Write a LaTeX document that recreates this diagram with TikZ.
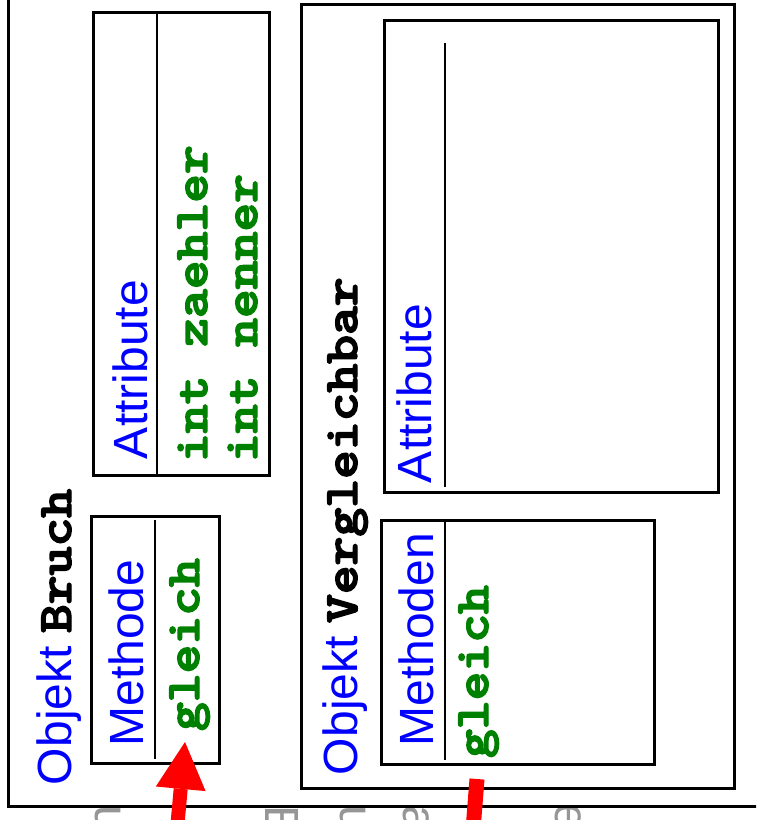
\documentclass[tikz,border=0pt]{standalone}
\usepackage{fontspec}
\usepackage{graphicx}
\setmainfont{Liberation Sans}
\usetikzlibrary{arrows.meta}
\definecolor{kwblue}{RGB}{0,0,255}
\definecolor{codegreen}{RGB}{0,128,0}
\definecolor{arrowred}{RGB}{255,0,0}
\definecolor{fadegrey}{RGB}{150,150,150}
% bold typewriter, widened to a Courier-like advance and given a heavier stroke
\newcommand\codetext[1]{\scalebox{1.143}[1]{\ttfamily\bfseries
  \special{pdf:literal direct 2 Tr 1.4 w}#1\special{pdf:literal direct 0 Tr}}}

\begin{document}
\begin{tikzpicture}[x=1pt,y=-1pt,
  box/.style={draw, line width=3pt, inner sep=0pt, outer sep=0pt, anchor=north west},
  divider/.style={line width=2pt},
  caption/.style={rotate=90, anchor=base west, inner sep=0pt, outer sep=0pt,
                  font=\fontsize{48}{52}\selectfont},
  heading/.style={caption, text=kwblue},
  code/.style={caption, text=codegreen},
  shade/.style={rotate=-90, anchor=base west, inner sep=0pt, outer sep=0pt,
                text=fadegrey, font=\fontsize{48}{52}\selectfont},
  pointer/.style={arrowred, line width=14pt,
                  -{Triangle[width=50pt,length=47pt,line width=0pt]}},
  redbar/.style={arrowred, line width=15pt}
]
\useasboundingbox (0,0) rectangle (756,820);
\clip (0,0) rectangle (756,820);

% text continuing below the frame
\begin{scope}
  \clip (0,806) rectangle (756,820);
  \node[shade] (s1) at (95,805) {u};
  \node[shade] (s2) at (265,805) {E};
  \node[shade] (s3) at (340,805) {u};
  \node[shade] (s4) at (403,805) {a};
  \node[shade] (s5) at (555,803) {e};
\end{scope}

% outer frame
\node[box, minimum width=780pt, minimum height=826pt] (frame) at (8,-20) {};

% object Bruch
\node[box, minimum width=176pt, minimum height=463pt] (bruchattr) at (93,12) {};
\draw[divider] (157,12) -- (157,477);
\node[box, minimum width=128pt, minimum height=247pt] (bruchmeth) at (91,516) {};
\draw[divider] (155,520) -- (155,759);

\node[heading] (bruchtitle) at (71,785) {Objekt {\color{black}\codetext{Bruch}}};
\node[heading] (bruchattrlabel) at (147,459) {Attribute};
\node[code] (zaehler) at (207,462) {\codetext{int zaehler}};
\node[code] (nenner) at (257,462) {\codetext{int nenner}};
\node[heading] (bruchmethlabel) at (143,746.5) {Methode};
\node[code] (bruchgleich) at (199,731) {\codetext{gleich}};

% object Vergleichbar
\node[box, minimum width=433pt, minimum height=784pt] (vergl) at (301,4) {};
\node[box, minimum width=334pt, minimum height=472pt] (verglattr) at (384,20) {};
\draw[divider] (445,43) -- (445,487);
\node[box, minimum width=273pt, minimum height=244pt] (verglmeth) at (381,520) {};
\draw[divider] (445,521) -- (445,760);

\node[heading] (vergltitle) at (357,775) {Objekt {\color{black}\codetext{Vergleichbar}}};
\node[heading] (verglattrlabel) at (431,483) {Attribute};
\node[heading] (verglmethlabel) at (433,746.5) {Methoden};
\node[code] (verglgleich) at (488,758) {\codetext{gleich}};

% red pointers
\coordinate (pointerfoot) at (176,840);
\coordinate (pointertip) at (185,742);
\draw[pointer] (pointerfoot) -- (pointertip);
\coordinate (barfoot) at (473,830);
\coordinate (bartop) at (477,779);
\draw[redbar] (barfoot) -- (bartop);
\end{tikzpicture}
\end{document}
